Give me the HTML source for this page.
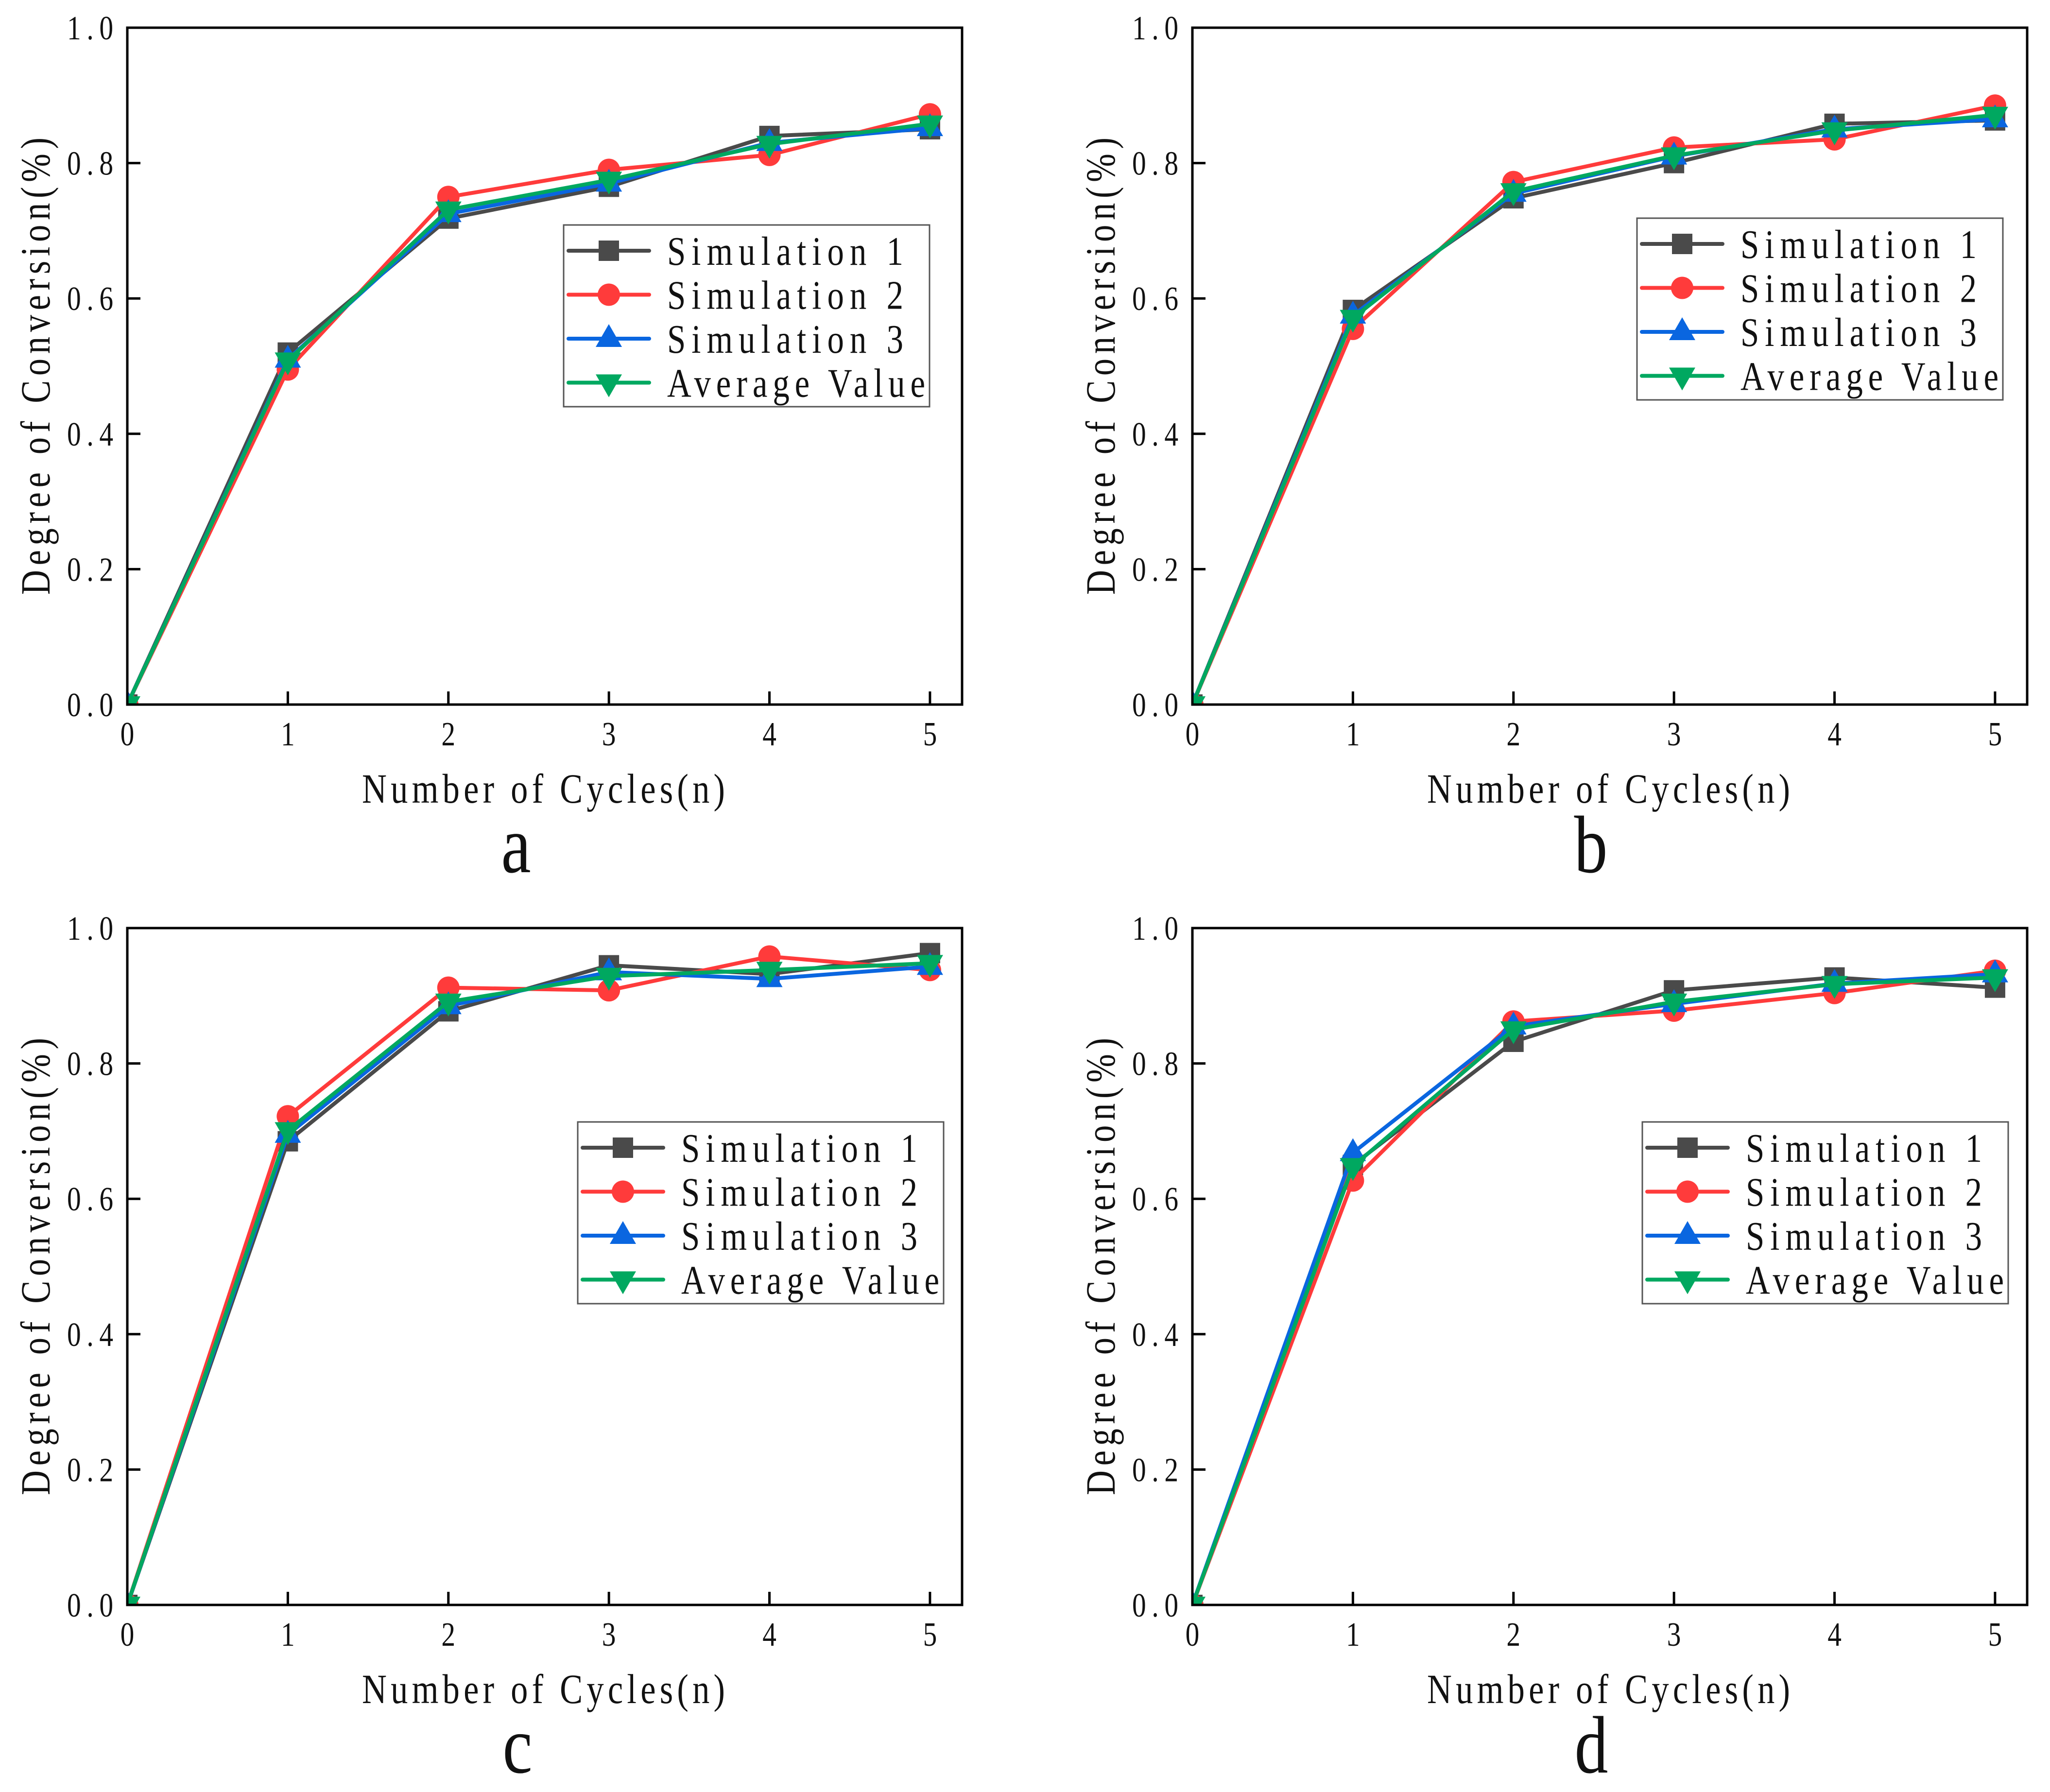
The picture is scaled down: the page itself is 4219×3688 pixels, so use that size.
<!DOCTYPE html>
<html lang="en">
<head>
<meta charset="utf-8">
<title>Degree of Conversion vs Number of Cycles</title>
<style>
html,body{margin:0;padding:0;background:#fff;}
svg{display:block;}
text{font-family:"Liberation Serif","Noto Serif CJK SC",serif;fill:#111;}
</style>
</head>
<body>
<svg id="figure" xmlns="http://www.w3.org/2000/svg" width="4219" height="3688" viewBox="0 0 4219 3688">
<rect width="4219" height="3688" fill="#fff"/>
</svg>
<script>
// Shared axis data
const cycles = [0, 1, 2, 3, 4, 5];
const yTicks = [0, 0.2, 0.4, 0.6, 0.8, 1.0];
const yTickLabels = ["0.0", "0.2", "0.4", "0.6", "0.8", "1.0"];
const xTickLabels = ["0", "1", "2", "3", "4", "5"];
const seriesNames = ["Simulation 1", "Simulation 2", "Simulation 3", "Average Value"];

// Panel a
const aSim1 = [0, 0.520, 0.718, 0.765, 0.840, 0.850];
const aSim2 = [0, 0.495, 0.750, 0.790, 0.812, 0.872];
const aSim3 = [0, 0.510, 0.725, 0.770, 0.830, 0.852];
const aAvg  = [0, 0.508, 0.731, 0.775, 0.828, 0.858];
// Panel b
const bSim1 = [0, 0.583, 0.748, 0.800, 0.858, 0.863];
const bSim2 = [0, 0.555, 0.772, 0.823, 0.835, 0.885];
const bSim3 = [0, 0.575, 0.755, 0.810, 0.850, 0.865];
const bAvg  = [0, 0.571, 0.758, 0.811, 0.848, 0.871];
// Panel c
const cSim1 = [0, 0.685, 0.877, 0.945, 0.932, 0.963];
const cSim2 = [0, 0.722, 0.912, 0.908, 0.958, 0.938];
const cSim3 = [0, 0.695, 0.885, 0.935, 0.925, 0.943];
const cAvg  = [0, 0.701, 0.891, 0.929, 0.938, 0.948];
// Panel d
const dSim1 = [0, 0.650, 0.832, 0.908, 0.927, 0.912];
const dSim2 = [0, 0.627, 0.862, 0.878, 0.904, 0.937];
const dSim3 = [0, 0.668, 0.855, 0.888, 0.918, 0.932];
const dAvg  = [0, 0.648, 0.850, 0.891, 0.917, 0.927];

const NS = "http://www.w3.org/2000/svg";
const svg = document.getElementById("figure");
const colors = ["#4a4a4a", "#ff3b3b", "#0a66e0", "#00a860"];
const markerKinds = ["square", "circle", "up", "down"];
const seriesSlugs = ["simulation-1", "simulation-2", "simulation-3", "average-value"];

const panels = [
  {id:"a", left:262,  top:57,   letterX:1062, letterY:1795, legendX:1160, legendY:463,  series:[aSim1,aSim2,aSim3,aAvg]},
  {id:"b", left:2454, top:57,   letterX:3274, letterY:1795, legendX:3369, legendY:449,  series:[bSim1,bSim2,bSim3,bAvg]},
  {id:"c", left:262,  top:1910, letterX:1065, letterY:3648, legendX:1189, legendY:2309, series:[cSim1,cSim2,cSim3,cAvg]},
  {id:"d", left:2454, top:1910, letterX:3275, letterY:3648, legendX:3380, legendY:2309, series:[dSim1,dSim2,dSim3,dAvg]}
];
const PW = 1718, PH = 1393, XMAX = 5.2, YMAX = 1.0;
const SQUEEZE = 0.82;

function make(tag, attrs, parent) {
  const el = document.createElementNS(NS, tag);
  for (const k in attrs) el.setAttribute(k, attrs[k]);
  parent.appendChild(el);
  return el;
}
// Condensed text: glyphs narrowed horizontally, tracked out to the given width.
function condensed(str, x, y, size, width, rotate, parent) {
  const rot = rotate ? ` rotate(${rotate})` : "";
  const attrs = {x:0, y:0, "font-size":size, transform:`translate(${x} ${y})${rot} scale(${SQUEEZE} 1)`};
  if (width) { attrs.textLength = (width / SQUEEZE).toFixed(1); attrs.lengthAdjust = "spacing"; }
  else { attrs["text-anchor"] = "middle"; }
  const el = make("text", attrs, parent);
  el.textContent = str;
  return el;
}
function marker(kind, x, y, color, parent) {
  if (kind === "square") return make("rect", {x:x-21, y:y-21, width:42, height:42, fill:color}, parent);
  if (kind === "circle") return make("circle", {cx:x, cy:y, r:23, fill:color}, parent);
  if (kind === "up") return make("polygon", {points:`${x-27},${y+17} ${x+27},${y+17} ${x},${y-30}`, fill:color}, parent);
  return make("polygon", {points:`${x-27},${y-17} ${x+27},${y-17} ${x},${y+30}`, fill:color}, parent);
}

panels.forEach(function (p) {
  const xScale = v => p.left + (v / XMAX) * PW;
  const yScale = v => p.top + PH - (v / YMAX) * PH;

  const g = make("g", {}, svg);
  
  

  const clip = make("clipPath", {id:"clip-" + p.id}, g);
  make("rect", {x:p.left, y:p.top, width:PW, height:PH}, clip);

  // series
  const plot = make("g", {"clip-path":`url(#clip-${p.id})`}, g);
  
  
  p.series.forEach(function (vals, i) {
    const sg = make("g", {}, plot);
    
    
    const pts = vals.map((v, k) => xScale(cycles[k]).toFixed(1) + "," + yScale(v).toFixed(1)).join(" ");
    const line = make("polyline", {points:pts, fill:"none", stroke:colors[i], "stroke-width":8, "stroke-linejoin":"round"}, sg);
    
    
    vals.forEach(function (v, k) {
      const m = marker(markerKinds[i], xScale(cycles[k]), yScale(v), colors[i], sg);
      
      
    });
  });

  // frame
  const frame = make("rect", {x:p.left, y:p.top, width:PW, height:PH, fill:"none", stroke:"#000", "stroke-width":5}, g);
  
  

  // x ticks
  cycles.forEach(function (c, i) {
    const x = xScale(c);
    const t = make("line", {x1:x, x2:x, y1:p.top+PH, y2:p.top+PH-27, stroke:"#000", "stroke-width":5}, g);
    
    
    const l = condensed(xTickLabels[i], x, p.top+PH+84, 70, 0, 0, g);
    
    
  });
  // y ticks
  yTicks.forEach(function (v, i) {
    const y = yScale(v);
    const t = make("line", {x1:p.left, x2:p.left+27, y1:y, y2:y, stroke:"#000", "stroke-width":5}, g);
    
    
    const l = condensed(yTickLabels[i], p.left-124, y+24, 70, 95, 0, g);
    
    
  });

  // axis titles
  const xt = condensed("Number of Cycles(n)", p.left+483, p.top+PH+202, 86, 747, 0, g);
  
  

  const yt = condensed("Degree of Conversion(%)", p.left-160, p.top+1167, 86, 941, -90, g);
  
  

  // panel letter
  const pl = condensed(p.id, p.letterX, p.letterY, 168, 0, 0, g);
  
  

  // legend
  const lg = make("g", {}, g);
  
  
  make("rect", {x:p.legendX, y:p.legendY, width:753, height:374, fill:"#fff", stroke:"#555", "stroke-width":3}, lg);
  seriesNames.forEach(function (name, i) {
    const cy = p.legendY + 53 + i * 90.5;
    const e = make("g", {}, lg);
    
    
    make("line", {x1:p.legendX+10, x2:p.legendX+176, y1:cy, y2:cy, stroke:colors[i], "stroke-width":8, "stroke-linecap":"round"}, e);
    marker(markerKinds[i], p.legendX+93, cy, colors[i], e);
    condensed(name, p.legendX+213, cy+29, 84, i === 3 ? 531 : 486, 0, e);
  });
});
</script>
</body>
</html>
